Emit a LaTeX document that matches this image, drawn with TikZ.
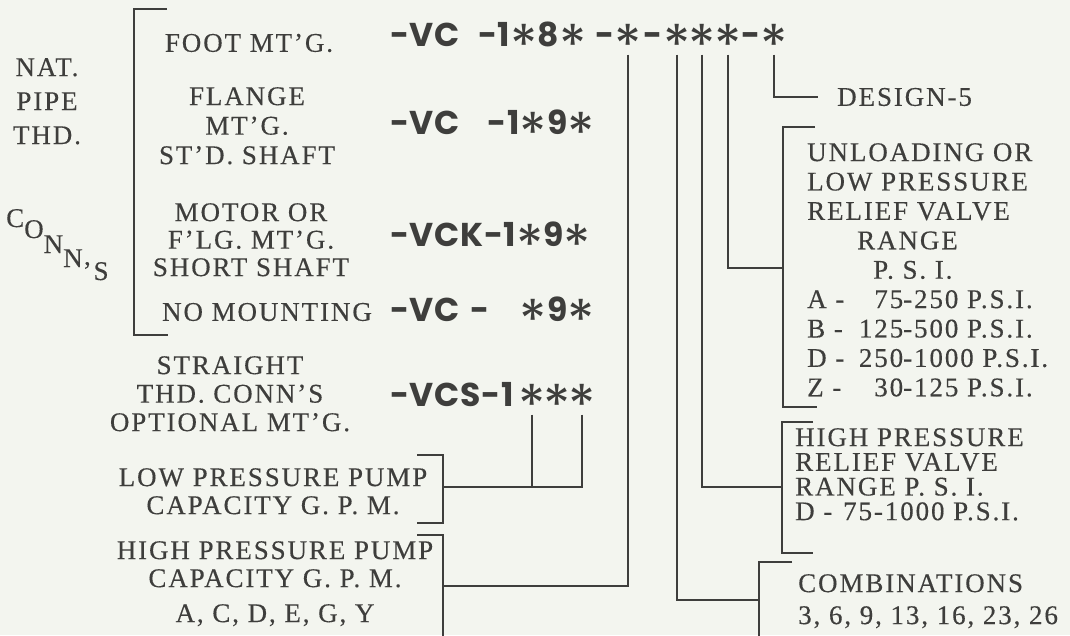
\documentclass[tikz,border=0pt]{standalone}
\usepackage{fontspec}
\usepackage{graphicx}
\setmainfont{Liberation Serif}[LetterSpace=7, FakeBold=0.3]
\newfontfamily\codefont{Poppins}[LetterSpace=2]
\newcommand\kast{\raisebox{-0.58em}{\scalebox{1.7}{\mdseries *}}}
\newcommand\kastb{\makebox[23pt][c]{\kast}}
\newcommand\kdash{-}
\definecolor{ink}{HTML}{3E3E3C}
\definecolor{paper}{HTML}{F3F5EF}
\begin{document}
\begin{tikzpicture}[x=1pt,y=-1pt,
  lbl/.style={font=\fontsize{27}{#1}\selectfont, text=ink, inner sep=0, align=center},
  lbl/.default=29,
  lbll/.style={font=\fontsize{27}{#1}\selectfont, text=ink, inner sep=0, align=left, anchor=north west},
  code/.style={font=\codefont\bfseries\fontsize{33}{35}\selectfont, text=ink, inner sep=0, text height=23pt, text depth=0pt},
  ast/.style={code, outer sep=8pt},
  ln/.style={draw=ink, line width=2.4pt}]
\fill[paper] (0,0) rectangle (1070,635);
\useasboundingbox (0,0) rectangle (1070,635);

% left labels
\node[lbl=34, anchor=north] (nat) at (47,58) {NAT.\\PIPE\\THD.};
\node[lbl, anchor=base west] (conns) at (6,227) {C\raisebox{-11pt}{O}\raisebox{-26pt}{N}\raisebox{-40pt}{N}\raisebox{-53pt}{’S}};
\node[lbl] (foot) at (249,43) {FOOT MT’G.};
\node[lbl=29.5, anchor=north] (flange) at (247,87) {FLANGE\\MT’G.\\ST’D. SHAFT};
\node[lbl=27.5, anchor=north] (motor) at (251,203) {MOTOR OR\\F’LG. MT’G.\\SHORT SHAFT};
\node[lbl] (nomount) at (267,312) {NO MOUNTING};
\node[lbl=28.5, anchor=north] (straight) at (230,356) {STRAIGHT\\THD. CONN’S\\OPTIONAL MT’G.};
\node[lbl=28, anchor=north] (lowpump) at (273,468) {LOW PRESSURE PUMP\\CAPACITY G. P. M.};
\node[lbl=28, anchor=north] (highpump) at (275,541) {HIGH PRESSURE PUMP\\CAPACITY G. P. M.\\[7pt]A, C, D, E, G, Y};

% codes, top row
\node[code, anchor=west] (t1) at (390,35) {-VC};
\node[code, anchor=west] (t2) at (478,35) {-1\kast8\kast};
\node[code] (d1) at (605,35) {\kdash};
\node[ast] (s1) at (628,35) {\kastb};
\node[code] (d2) at (653,35) {\kdash};
\node[ast] (s2) at (677,35) {\kastb};
\node[ast] (s3) at (702,35) {\kastb};
\node[ast] (s4) at (728,35) {\kastb};
\node[code] (d3) at (751,35) {\kdash};
\node[ast] (s5) at (774,35) {\kastb};
% other code rows
\node[code, anchor=west] (r2a) at (390,123) {-VC};
\node[code, anchor=east] (r2b) at (595,123) {-1\kast9\kast};
\node[code, anchor=west] (r3) at (390,235) {-VCK-1\kast9\kast};
\node[code, anchor=west] (r4a) at (390,310) {-VC};
\node[code, anchor=west] (r4b) at (470,310) {-};
\node[code, anchor=east] (r4c) at (595,310) {\kast9\kast};
\node[code, anchor=west] (r5) at (390,395) {-VCS-1};
\node[ast] (v1) at (532,395) {\kastb};
\node[ast] (v2) at (557,395) {\kastb};
\node[ast] (v3) at (582,395) {\kastb};

% right labels
\node[lbl, anchor=west] (design) at (837,97) {DESIGN-5};
\node[lbll=29.4] (unload) at (807,143) {UNLOADING OR\\LOW PRESSURE\\RELIEF VALVE\\\hspace*{50pt}RANGE\\\hspace*{66pt}P. S. I.\\
 \makebox[56pt][l]{A -}\makebox[40pt][r]{75}-250 P.S.I.\\
 \makebox[56pt][l]{B -}\makebox[40pt][r]{125}-500 P.S.I.\\
 \makebox[56pt][l]{D -}\makebox[40pt][r]{250}-1000 P.S.I.\\
 \makebox[56pt][l]{Z -}\makebox[40pt][r]{30}-125 P.S.I.};
\node[lbll=24.7] (hprel) at (795,428) {HIGH PRESSURE\\RELIEF VALVE\\RANGE P. S. I.\\\makebox[48pt][l]{D -}75-1000 P.S.I.};
\node[lbll=32] (combo) at (798,574) {COMBINATIONS\\3, 6, 9, 13, 16, 23, 26};

% brackets
\draw[ln] (167,9) -- (134,9) -- (134,335) -- (168,335);
\draw[ln] (815,127) -- (783,127) -- (783,407) -- (817,407);
\draw[ln] (813,422) -- (782,422) -- (782,553) -- (813,553);
\draw[ln] (792,562) -- (759,562) -- (759,640);
\draw[ln] (417,455) -- (443,455) -- (443,523) -- (417,523);
\draw[ln] (417,535) -- (443,535) -- (443,640);

% connectors
\coordinate (jD) at (818,97);
\coordinate (jU) at (783,268);
\coordinate (jH) at (782,487);
\coordinate (jC) at (759,600);
\coordinate (jP) at (443,586);
\coordinate (jL) at (443,487);
\draw[ln] (s5) |- (jD);
\draw[ln] (s4) |- (jU);
\draw[ln] (s3) |- (jH);
\draw[ln] (s2) |- (jC);
\draw[ln] (s1) |- (jP);
\draw[ln] (v3) |- (jL);
\draw[ln] (v1) -- (v1 |- jL);
\end{tikzpicture}
\end{document}
